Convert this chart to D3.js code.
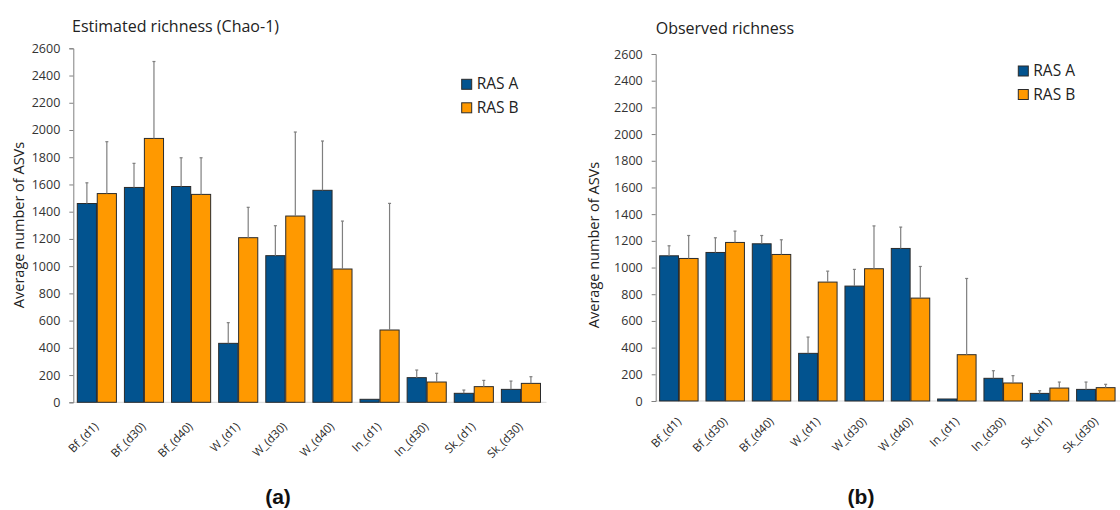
<!DOCTYPE html>
<html>
<head>
<meta charset="utf-8">
<script src="https://cdn.jsdelivr.net/npm/d3@7"></script>
<style>
  body { margin: 0; background: #fff; }
  svg { font-family: "Open Sans", sans-serif; }
</style>
</head>
<body>
<div id="chart"></div>
<script>
// categories on the x axis
const categories = ['Bf_(d1)', 'Bf_(d30)', 'Bf_(d40)', 'W_(d1)', 'W_(d30)', 'W_(d40)', 'In_(d1)', 'In_(d30)', 'Sk_(d1)', 'Sk_(d30)']
const seriesNames = ['RAS A', 'RAS B']
const yTicks = [0, 200, 400, 600, 800, 1000, 1200, 1400, 1600, 1800, 2000, 2200, 2400, 2600]

// (a) estimated richness (Chao-1): means and error (sd)
const chaoA = [1460, 1578, 1585, 433, 1077, 1557, 22, 181, 66, 95]
const chaoAErr = [152, 177, 211, 152, 220, 362, 0, 56, 24, 61]
const chaoB = [1533, 1938, 1527, 1209, 1368, 979, 531, 149, 115, 139]
const chaoBErr = [381, 565, 269, 223, 617, 352, 930, 64, 46, 49]

// (b) observed richness
const obsA = [1088, 1113, 1178, 357, 861, 1143, 15, 170, 57, 87]
const obsAErr = [75, 110, 62, 122, 125, 160, 0, 57, 20, 55]
const obsB = [1068, 1188, 1098, 891, 991, 771, 347, 135, 97, 100]
const obsBErr = [172, 85, 110, 82, 321, 237, 571, 55, 45, 25]

const colors = ['#02538f', '#ff9900']

const svg = d3.select('#chart').append('svg')
  .attr('width', 1120)
  .attr('height', 510)

function drawPanel(opts) {
  const g = svg.append('g')

  const rows = categories.map((c, i) => ({
    cat: c,
    bars: [
      { s: 0, value: opts.a[i], err: opts.aErr[i] },
      { s: 1, value: opts.b[i], err: opts.bErr[i] }
    ]
  }))

  const x = d3.scaleBand()
    .domain(categories)
    .range([opts.left, opts.right])
    .paddingInner(0.17)
    .paddingOuter(0.085)

  const xSub = d3.scaleBand()
    .domain([0, 1])
    .range([0, x.bandwidth()])
    .paddingInner(0.04)

  const y = d3.scaleLinear()
    .domain([0, 2600])
    .range([opts.bottom, opts.top])

  // x axis baseline
  g.append('line')
    .attr('x1', opts.left).attr('x2', opts.right + 2)
    .attr('y1', opts.bottom).attr('y2', opts.bottom)
    .attr('stroke', '#d9d9d9')

  // y axis
  const yAxis = d3.axisLeft(y)
    .tickValues(yTicks)
    .tickFormat(d3.format('d'))
    .tickSize(4)
    .tickPadding(9)
  const ya = g.append('g')
    .attr('transform', 'translate(' + opts.left + ',0)')
    .call(yAxis)
  ya.select('.domain').attr('stroke', '#808080')
  ya.selectAll('.tick line').attr('stroke', '#808080')
  ya.selectAll('.tick text')
    .attr('fill', '#333')
    .style('font-size', '12.5px')
    .style('font-family', '"Open Sans", sans-serif')

  const groups = g.selectAll('.grp')
    .data(rows)
    .join('g')
    .attr('class', 'grp')
    .attr('transform', d => 'translate(' + x(d.cat) + ',0)')

  groups.selectAll('rect')
    .data(d => d.bars)
    .join('rect')
    .attr('x', d => xSub(d.s))
    .attr('width', xSub.bandwidth())
    .attr('y', d => y(d.value))
    .attr('height', d => y(0) - y(d.value))
    .attr('fill', d => colors[d.s])
    .attr('stroke', '#2b2b2b')
    .attr('stroke-width', 1)

  // error bars (upper only)
  const eb = groups.selectAll('.err')
    .data(d => d.bars.filter(b => b.err > 0))
    .join('g')
    .attr('class', 'err')
    .attr('stroke', '#7f7f7f')
    .attr('stroke-width', 1.2)
  eb.append('line')
    .attr('x1', d => xSub(d.s) + xSub.bandwidth() / 2)
    .attr('x2', d => xSub(d.s) + xSub.bandwidth() / 2)
    .attr('y1', d => y(d.value))
    .attr('y2', d => y(d.value + d.err))
  eb.append('line')
    .attr('x1', d => xSub(d.s) + xSub.bandwidth() / 2 - 1.5)
    .attr('x2', d => xSub(d.s) + xSub.bandwidth() / 2 + 1.5)
    .attr('y1', d => y(d.value + d.err))
    .attr('y2', d => y(d.value + d.err))

  // rotated category labels
  g.selectAll('.xlab')
    .data(categories)
    .join('text')
    .attr('class', 'xlab')
    .attr('text-anchor', 'end')
    .attr('transform', d => 'translate(' + (x(d) + x.bandwidth() / 2 + opts.labDx) + ',' + (opts.bottom + opts.labDy) + ') rotate(-45)')
    .attr('fill', '#262626')
    .style('font-size', '11.5px')
    .text(d => d)

  // title
  g.append('text')
    .attr('x', opts.titleX)
    .attr('y', opts.titleY)
    .attr('fill', '#222')
    .style('font-size', '16px')
    .text(opts.title)

  // y axis title
  g.append('text')
    .attr('transform', 'translate(' + opts.yLabX + ',' + opts.yLabY + ') rotate(-90)')
    .attr('text-anchor', 'middle')
    .attr('fill', '#222')
    .style('font-size', '14.5px')
    .text('Average number of ASVs')

  // legend
  const lg = g.selectAll('.leg')
    .data(seriesNames)
    .join('g')
    .attr('class', 'leg')
    .attr('transform', (d, i) => 'translate(' + opts.legX + ',' + (opts.legY + i * 23.5) + ')')
  lg.append('rect')
    .attr('width', 10).attr('height', 10)
    .attr('fill', (d, i) => colors[i])
    .attr('stroke', '#2b2b2b')
  lg.append('text')
    .attr('x', 15)
    .attr('y', 10)
    .attr('fill', '#222')
    .style('font-size', '15.5px')
    .text(d => d)

  // panel letter
  g.append('text')
    .attr('x', opts.letterX)
    .attr('y', 503.5)
    .attr('text-anchor', 'middle')
    .attr('fill', '#111')
    .style('font-family', '"Liberation Sans", Arial, sans-serif')
    .style('font-weight', 'bold')
    .style('font-size', '21px')
    .text(opts.letter)
}

drawPanel({
  a: chaoA, aErr: chaoAErr, b: chaoB, bErr: chaoBErr,
  left: 73.3, right: 544.5, top: 48.3, bottom: 402.3,
  title: 'Estimated richness (Chao-1)', titleX: 72, titleY: 31.5,
  yLabX: 24, yLabY: 225,
  legX: 461.7, legY: 79.3,
  labDx: 2.4, labDy: 25,
  letter: '(a)', letterX: 278
})

drawPanel({
  a: obsA, aErr: obsAErr, b: obsB, bErr: obsBErr,
  left: 655.7, right: 1119, top: 54, bottom: 401,
  title: 'Observed richness', titleX: 655.7, titleY: 34,
  yLabX: 599, yLabY: 245,
  legX: 1018.3, legY: 66,
  labDx: 3, labDy: 21.2,
  letter: '(b)', letterX: 861
})
</script>
</body>
</html>
